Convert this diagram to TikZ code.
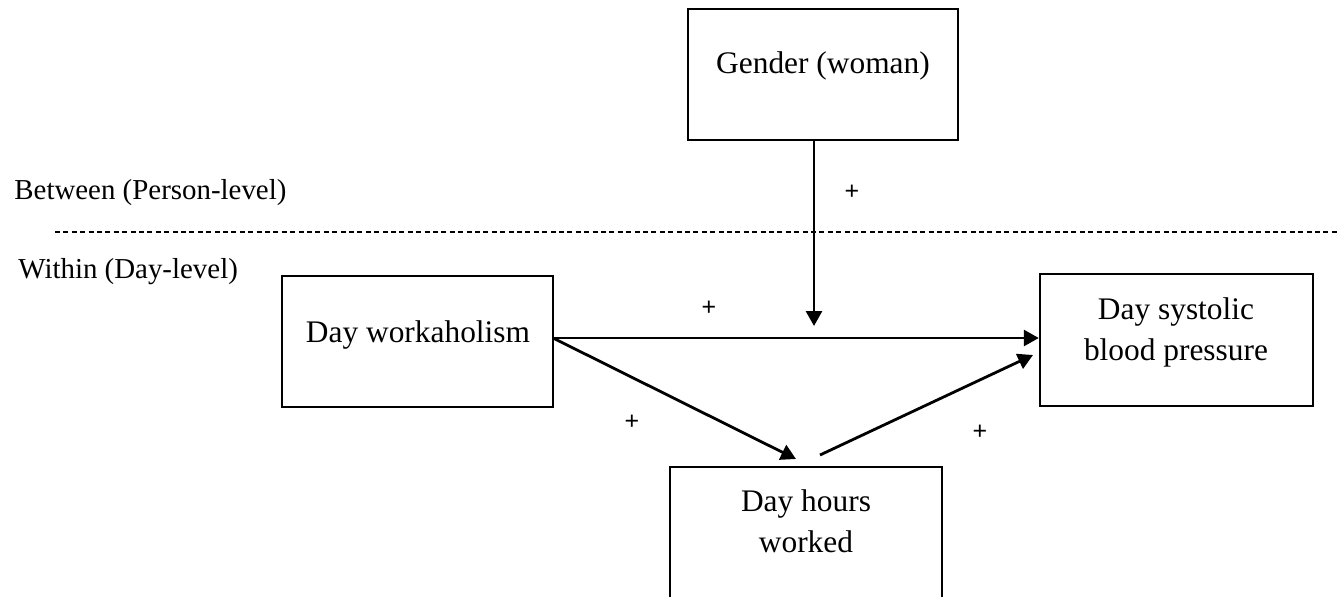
\documentclass[tikz,border=0pt]{standalone}
\usepackage{fontspec}
\setmainfont{Liberation Serif}
\newfontfamily\plusfont{Liberation Sans}
\usetikzlibrary{arrows.meta}
\begin{document}
\begin{tikzpicture}[x=0.5pt,y=-0.5pt,
  boxnode/.style={draw,line width=1.2pt,inner sep=0pt},
  txt/.style={font=\fontsize{15.7}{20.5}\selectfont,inner sep=0pt,align=center,anchor=base},
  lvl/.style={font=\fontsize{14.45}{18}\selectfont,inner sep=0pt,anchor=base west},
  plus/.style={font=\plusfont\fontsize{12.5}{14}\selectfont,inner sep=0pt},
  arr/.style={line width=1.4pt,-{Triangle[length=7.5pt,width=8pt]}}]
\clip (0,0) rectangle (1340,596);
\useasboundingbox (0,0) rectangle (1340,596);
% boxes
\node[boxnode,minimum width=135pt,minimum height=65.5pt] (gender) at (823,74.5) {};
\node[boxnode,minimum width=135.5pt,minimum height=65.5pt] (work) at (417.5,341.5) {};
\node[boxnode,minimum width=136.5pt,minimum height=66pt] (sys) at (1176.5,340) {};
\draw[line width=1.2pt] (670,605) -- (670,467) -- (942,467) -- (942,605);
\node[inner sep=0pt,minimum width=136pt,minimum height=65pt] (hours) at (806,532) {};
% texts
\node[txt] (tg) at (823,73) {Gender (woman)};
\node[txt] (tw) at (418,342) {Day workaholism};
\node[txt] (ts) at (1176,360) {Day systolic\\blood pressure};
\node[txt] (th) at (806,552) {Day hours\\worked};
\node[lvl] (between) at (14,199) {Between (Person-level)};
\node[lvl] (within) at (18,278) {Within (Day-level)};
% dashed separator
\coordinate (dl) at (55,232);
\coordinate (dr) at (1340,232);
\draw[line width=0.6pt,dash pattern=on 2.5pt off 1.7pt] (dl) -- (dr);
% arrow coordinates
\coordinate (gtip) at (814,326);
\coordinate (wstart) at (553,338);
\coordinate (htip) at (796,459);
\coordinate (hstart) at (820,455);
\coordinate (stip) at (1033,355);
\draw[arr] (gender.south -| gtip) -- (gtip);
\draw[arr] (wstart) -- (sys.west |- wstart);
\draw[arr] (wstart) -- (htip);
\draw[arr] (hstart) -- (stip);
% plus labels
\node[plus] (p1) at (852,192) {+};
\node[plus] (p2) at (709,308) {+};
\node[plus] (p3) at (632,422) {+};
\node[plus] (p4) at (980,432) {+};
\end{tikzpicture}
\end{document}
